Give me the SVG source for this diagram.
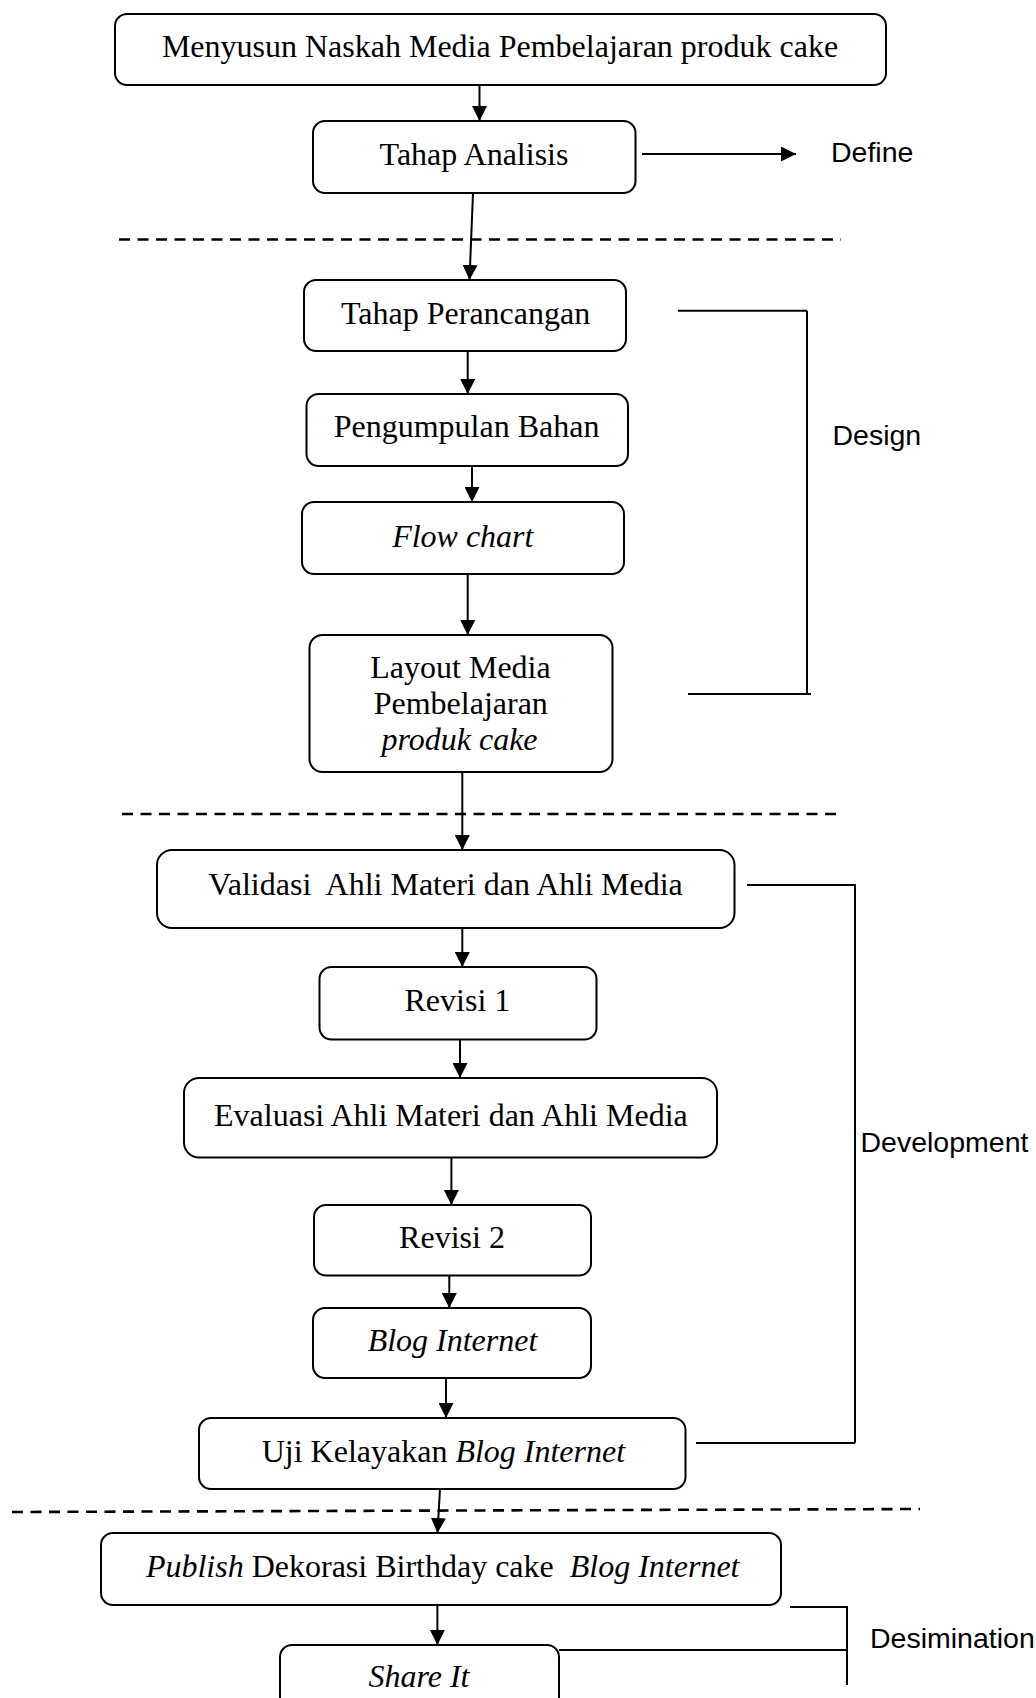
<svg xmlns="http://www.w3.org/2000/svg" width="1036" height="1698" viewBox="0 0 1036 1698">
<style>
.box{fill:#fff;stroke:#000;stroke-width:2}
.t{font-family:"Liberation Serif","Times New Roman",serif;font-size:32px;fill:#000;text-anchor:middle}
.i{font-style:italic}
.s{font-family:"Liberation Sans",Arial,sans-serif;font-size:28.5px;fill:#000}
.ln{stroke:#000;stroke-width:2;fill:none}
.dash{stroke:#000;stroke-width:2.6;stroke-dasharray:11 7.5;fill:none}
</style>
<defs>
<marker id="ah" markerWidth="15" markerHeight="15" refX="15" refY="7.5" orient="auto" markerUnits="userSpaceOnUse">
<path d="M0,0 L15,7.5 L0,15 Z" fill="#000"/>
</marker>
</defs>
<rect width="1036" height="1698" fill="#fff"/>

<g id="connectors">
<line class="ln" x1="479.5" y1="85" x2="479.5" y2="121" marker-end="url(#ah)"/>
<line class="ln" x1="642" y1="154" x2="796" y2="154" marker-end="url(#ah)"/>
<line class="ln" x1="473" y1="193" x2="469.5" y2="280" marker-end="url(#ah)"/>
<line class="ln" x1="467.7" y1="351" x2="467.7" y2="394" marker-end="url(#ah)"/>
<line class="ln" x1="472" y1="466" x2="472" y2="502" marker-end="url(#ah)"/>
<line class="ln" x1="467.7" y1="574" x2="467.7" y2="635" marker-end="url(#ah)"/>
<line class="ln" x1="462.3" y1="772" x2="462.3" y2="850" marker-end="url(#ah)"/>
<line class="ln" x1="462.3" y1="928" x2="462.3" y2="967" marker-end="url(#ah)"/>
<line class="ln" x1="460" y1="1039.5" x2="460" y2="1078" marker-end="url(#ah)"/>
<line class="ln" x1="451.4" y1="1157.5" x2="451.4" y2="1205" marker-end="url(#ah)"/>
<line class="ln" x1="449.3" y1="1275.5" x2="449.3" y2="1308" marker-end="url(#ah)"/>
<line class="ln" x1="446" y1="1378" x2="446" y2="1418" marker-end="url(#ah)"/>
<line class="ln" x1="440" y1="1489" x2="437.5" y2="1533" marker-end="url(#ah)"/>
<line class="ln" x1="437.4" y1="1605" x2="437.4" y2="1645" marker-end="url(#ah)"/>
</g>

<g id="separators">
<line class="dash" x1="119" y1="239.5" x2="841" y2="239.5"/>
<line class="dash" x1="122" y1="814" x2="843" y2="814"/>
<line class="dash" x1="12" y1="1512" x2="920" y2="1509"/>
</g>

<g id="brackets">
<line class="ln" x1="678" y1="310.7" x2="807" y2="310.7"/>
<line class="ln" x1="807" y1="310.7" x2="807" y2="694"/>
<line class="ln" x1="688" y1="694" x2="811" y2="694"/>
<line class="ln" x1="747" y1="885" x2="856" y2="885"/>
<line class="ln" x1="855" y1="885" x2="855" y2="1443"/>
<line class="ln" x1="696" y1="1443" x2="855" y2="1443"/>
<line class="ln" x1="790" y1="1607" x2="848" y2="1607"/>
<line class="ln" x1="847" y1="1607" x2="847" y2="1685"/>
<line class="ln" x1="559" y1="1650" x2="847" y2="1650"/>
</g>

<g id="n1"><rect class="box" x="115" y="14" width="771" height="71" rx="12"/><text class="t" x="500" y="57">Menyusun Naskah Media Pembelajaran produk cake</text></g>
<g id="n2"><rect class="box" x="313" y="121" width="322.5" height="72" rx="12"/><text class="t" x="474" y="165">Tahap Analisis</text></g>
<g id="n3"><rect class="box" x="304" y="280" width="322" height="71" rx="12"/><text class="t" x="465.6" y="324">Tahap Perancangan</text></g>
<g id="n4"><rect class="box" x="306.5" y="394" width="321.5" height="72" rx="12"/><text class="t" x="466.6" y="437">Pengumpulan Bahan</text></g>
<g id="n5"><rect class="box" x="302" y="502" width="322" height="72" rx="12"/><text class="t i" x="462.8" y="546.7">Flow chart</text></g>
<g id="n6"><rect class="box" x="309.5" y="635" width="303" height="137" rx="13"/>
<text class="t" x="460.5" y="678">Layout Media</text>
<text class="t" x="460.8" y="714.3">Pembelajaran</text>
<text class="t i" x="459.5" y="749.5">produk cake</text></g>
<g id="n7"><rect class="box" x="157" y="850" width="577.5" height="78" rx="15"/><text class="t" x="445.5" y="895" xml:space="preserve">Validasi  Ahli Materi dan Ahli Media</text></g>
<g id="n8"><rect class="box" x="319.5" y="967" width="277" height="72.5" rx="12"/><text class="t" x="457.4" y="1011">Revisi 1</text></g>
<g id="n9"><rect class="box" x="184" y="1078" width="533" height="79.5" rx="15"/><text class="t" x="450.9" y="1126">Evaluasi Ahli Materi dan Ahli Media</text></g>
<g id="n10"><rect class="box" x="314" y="1205" width="277" height="70.5" rx="12"/><text class="t" x="452" y="1248">Revisi 2</text></g>
<g id="n11"><rect class="box" x="313" y="1308" width="278" height="70" rx="12"/><text class="t i" x="452.5" y="1351">Blog Internet</text></g>
<g id="n12"><rect class="box" x="199" y="1418" width="486.5" height="71" rx="12"/><text class="t" x="443.4" y="1461.5">Uji Kelayakan <tspan class="i">Blog Internet</tspan></text></g>
<g id="n13"><rect class="box" x="101" y="1533" width="680" height="72" rx="12"/><text class="t" x="442.7" y="1576.7" xml:space="preserve"><tspan class="i">Publish</tspan> Dekorasi Birthday cake  <tspan class="i">Blog Internet</tspan></text></g>
<g id="n14"><rect class="box" x="280" y="1645" width="279" height="80" rx="12"/><text class="t i" x="419" y="1686.7">Share It</text></g>

<g id="phases">
<text class="s" x="831" y="161.7">Define</text>
<text class="s" x="832.5" y="445">Design</text>
<text class="s" x="860.5" y="1152">Development</text>
<text class="s" x="870" y="1648">Desimination</text>
</g>
</svg>
